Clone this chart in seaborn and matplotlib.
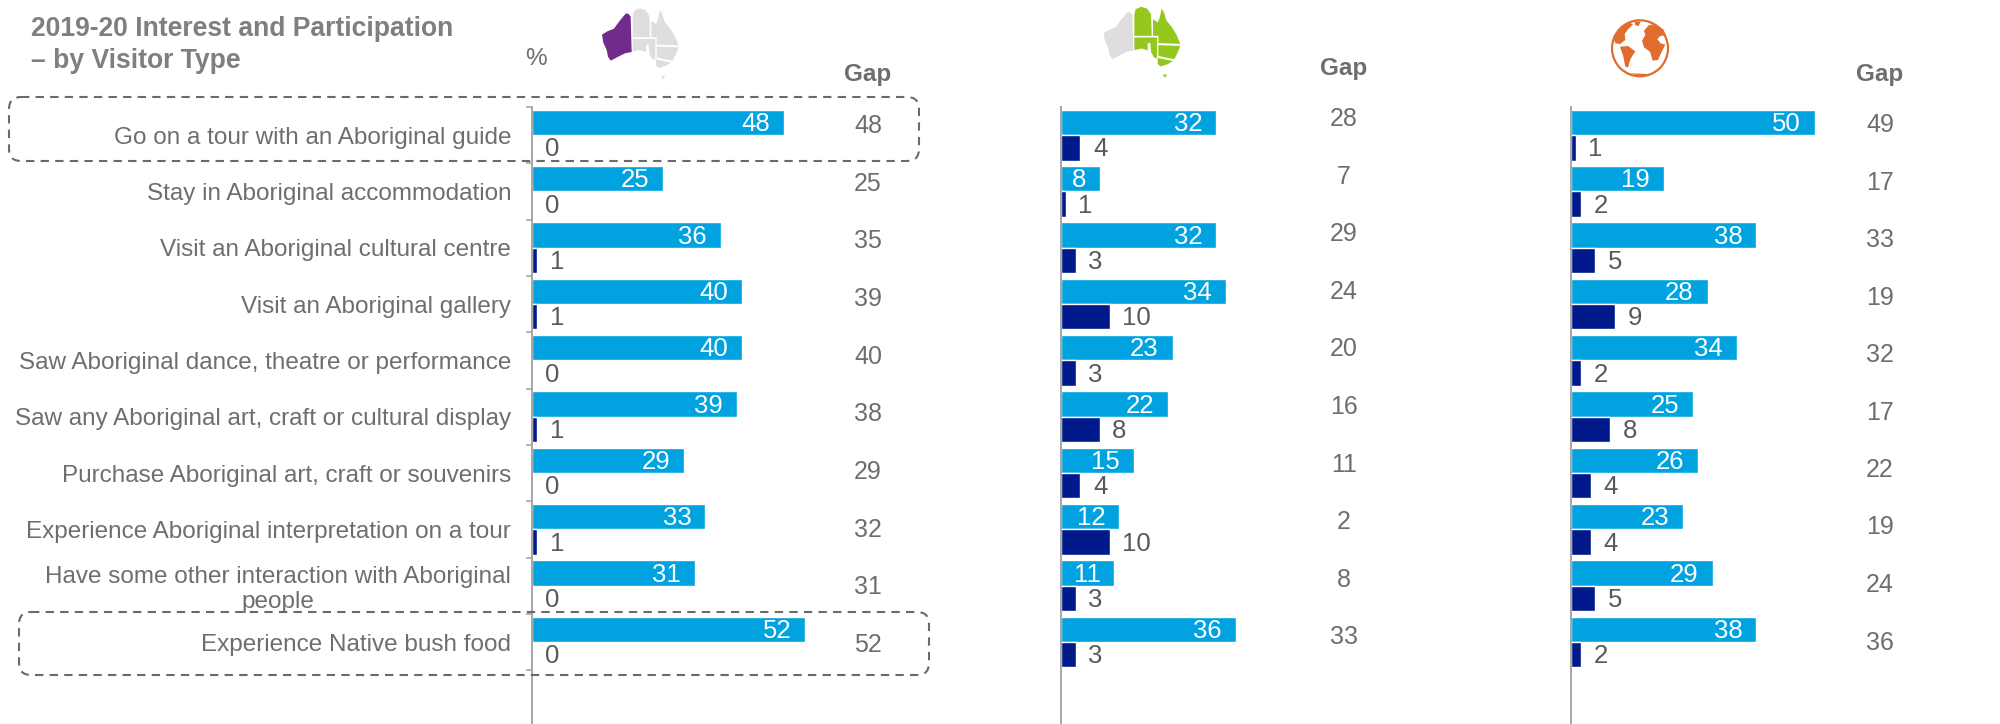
import matplotlib
matplotlib.use("Agg")
import matplotlib.pyplot as plt
import pandas as pd
import seaborn as sns
from matplotlib.patches import Polygon, FancyBboxPatch, Circle

W, H = 2000, 724

activities = [
    "Go on a tour with an Aboriginal guide",
    "Stay in Aboriginal accommodation",
    "Visit an Aboriginal cultural centre",
    "Visit an Aboriginal gallery",
    "Saw Aboriginal dance, theatre or performance",
    "Saw any Aboriginal art, craft or cultural display",
    "Purchase Aboriginal art, craft or souvenirs",
    "Experience Aboriginal interpretation on a tour",
    "Have some other interaction with Aboriginal\npeople",
    "Experience Native bush food",
]

wa_interest = [48, 25, 36, 40, 40, 39, 29, 33, 31, 52]
wa_participation = [0, 0, 1, 1, 0, 1, 0, 1, 0, 0]
wa_gap = [48, 25, 35, 39, 40, 38, 29, 32, 31, 52]

domestic_interest = [32, 8, 32, 34, 23, 22, 15, 12, 11, 36]
domestic_participation = [4, 1, 3, 10, 3, 8, 4, 10, 3, 3]
domestic_gap = [28, 7, 29, 24, 20, 16, 11, 2, 8, 33]

intl_interest = [50, 19, 38, 28, 34, 25, 26, 23, 29, 38]
intl_participation = [1, 2, 5, 9, 2, 8, 4, 4, 5, 2]
intl_gap = [49, 17, 33, 19, 32, 17, 22, 19, 24, 36]

BLUE = "#00A3E0"
NAVY = "#001A8C"
TEXT = "#6E6E6E"
VALUE = "#595959"
AXIS = "#A6A6A6"
DASH = "#6A6A6A"

sns.set_theme(style="white")
plt.rcParams["font.family"] = ["Liberation Sans", "DejaVu Sans"]

fig = plt.figure(figsize=(W / 100, H / 100), dpi=100)
fig.patch.set_facecolor("white")


def fx(x):
    return x / W


def fy(y):
    return 1 - y / H


def nudge_down(label, points=1.2):
    x, y = label.xyann
    label.xyann = (x, y - points)


def panel(interest, participation, axis_x, px_per_unit, show_labels):
    frame = pd.DataFrame({
        "activity": activities * 2,
        "value": interest + participation,
        "series": ["Interest"] * 10 + ["Participation"] * 10,
    })
    width_px = 62 * px_per_unit
    ax = fig.add_axes([fx(axis_x), 0, width_px / W, (H - 107) / H])
    sns.barplot(
        data=frame, y="activity", x="value", hue="series", orient="h",
        palette={"Interest": BLUE, "Participation": NAVY},
        width=0.9, gap=0, saturation=1, legend=False, ax=ax,
    )
    ax.set_xlim(0, 62)
    ax.set_ylim(10.455, -0.5)
    ax.set_xlabel("")
    ax.set_ylabel("")
    ax.set_xticks([])
    ax.patch.set_alpha(0)
    sns.despine(ax=ax, top=True, right=True, bottom=True)
    ax.spines["left"].set_color(AXIS)
    ax.spines["left"].set_linewidth(1.4)

    for label in ax.bar_label(ax.containers[0], padding=-10, color="white", fontsize=18.5):
        label.set_ha("right")
        nudge_down(label)
    for label in ax.bar_label(ax.containers[1], padding=9, color=VALUE, fontsize=18.5):
        nudge_down(label)

    if show_labels:
        ax.set_yticks(range(10))
        ax.set_yticklabels(activities, fontsize=17.5, color=TEXT, multialignment="center", linespacing=1.15)
        ax.set_yticks([i - 0.5 for i in range(11)], minor=True)
        ax.tick_params(axis="y", which="major", length=0, pad=15)
        ax.tick_params(axis="y", which="minor", length=4, width=1.2, color=AXIS, left=True)
    else:
        ax.set_yticks([])
    return ax


panel(wa_interest, wa_participation, 532, 5.25, True)
panel(domestic_interest, domestic_participation, 1061, 4.85, False)
panel(intl_interest, intl_participation, 1571, 4.88, False)


def gap_column(values, x, first_y, pitch, header_y):
    fig.text(fx(x), fy(header_y), "Gap", ha="center", va="center",
             fontsize=17.5, fontweight="bold", color=TEXT)
    for i, v in enumerate(values):
        fig.text(fx(x), fy(first_y + pitch * i), str(v), ha="center", va="center",
                 fontsize=18, color=TEXT)


gap_column(wa_gap, 868, 126, 57.67, 75)
gap_column(domestic_gap, 1344, 119, 57.6, 69)
gap_column(intl_gap, 1880, 125, 57.5, 75)

fig.text(fx(31), fy(29.5), "2019-20 Interest and Participation", ha="left", va="center",
         fontsize=19.1, fontweight="bold", color="#7F7F7F")
fig.text(fx(31), fy(61.5), "– by Visitor Type", ha="left", va="center",
         fontsize=19.1, fontweight="bold", color="#7F7F7F")
fig.text(fx(536), fy(59), "%", ha="center", va="center", fontsize=17.5, color=TEXT)


# Overlay axes in pixel coordinates for the dashed call-outs and the icons
overlay = fig.add_axes([0, 0, 1, 1], zorder=10)
overlay.set_xlim(0, W)
overlay.set_ylim(H, 0)
overlay.axis("off")
overlay.patch.set_alpha(0)

for x0, x1, y0, y1 in [(9, 919, 97, 161), (19, 929, 612, 675)]:
    overlay.add_patch(FancyBboxPatch(
        (x0 + 12, y0 + 12), x1 - x0 - 24, y1 - y0 - 24,
        boxstyle="round,pad=12,rounding_size=12",
        fill=False, edgecolor=DASH, linewidth=1.5, linestyle=(0, (4, 3)),
    ))

STATES = {
    "WA": [(108, 40), (116, 42), (122, 50), (125, 156), (105, 160), (85, 170), (62, 182),
           (54, 170), (50, 150), (40, 128), (36, 104), (52, 94), (72, 86), (82, 72), (95, 55)],
    "NT": [(128, 48), (132, 32), (148, 25), (166, 30), (172, 38), (178, 48), (180, 112), (128, 112)],
    "QLD": [(184, 112), (184, 62), (198, 72), (204, 58), (210, 30), (218, 45), (224, 66),
            (240, 85), (254, 108), (266, 136), (200, 134), (200, 112)],
    "SA": [(128, 117), (196, 117), (196, 180), (186, 176), (178, 160), (176, 134), (168, 134),
           (168, 156), (150, 150), (128, 155)],
    "NSW": [(200, 140), (266, 142), (258, 162), (248, 182), (226, 178), (200, 172)],
    "VIC": [(198, 178), (226, 184), (244, 188), (226, 198), (206, 204), (198, 196)],
    "TAS": [(213, 228), (226, 228), (220, 238)],
}


def australia(x0, y0, colours):
    for state, pts in STATES.items():
        overlay.add_patch(Polygon([(x0 + a / 3, y0 + b / 3) for a, b in pts],
                                  closed=True, facecolor=colours[state], edgecolor="none"))


GREY = "#DEDEDE"
australia(590, 0, {s: ("#702B8C" if s == "WA" else GREY) for s in STATES})
australia(1091.7, -1.5, {s: (GREY if s == "WA" else "#95C81E") for s in STATES})

ORANGE = "#E06C2E"
overlay.add_patch(Circle((1640, 48.3), 28, fill=False, edgecolor=ORANGE, linewidth=1.6))
CONTINENTS = [
    # Africa and Eurasia
    [(126, 92), (136, 75), (132, 62), (146, 46), (165, 42), (190, 58), (198, 76), (180, 78),
     (172, 88), (182, 100), (196, 104), (184, 128), (174, 150), (158, 152), (150, 125),
     (132, 112)],
    # South America
    [(60, 110), (84, 108), (106, 124), (92, 146), (84, 172), (76, 170), (70, 140)],
    # North America
    [(42, 88), (56, 58), (84, 38), (100, 42), (84, 58), (74, 72), (76, 90), (60, 102), (46, 100)],
    # Greenland
    [(104, 36), (122, 34), (116, 48), (106, 46)],
    # Antarctica
    [(90, 190), (150, 192), (122, 198)],
]
for pts in CONTINENTS:
    overlay.add_patch(Polygon([(1600 + a / 3, 10 + b / 3) for a, b in pts],
                              closed=True, facecolor=ORANGE, edgecolor="none"))

fig.savefig("out.png", dpi=100)
